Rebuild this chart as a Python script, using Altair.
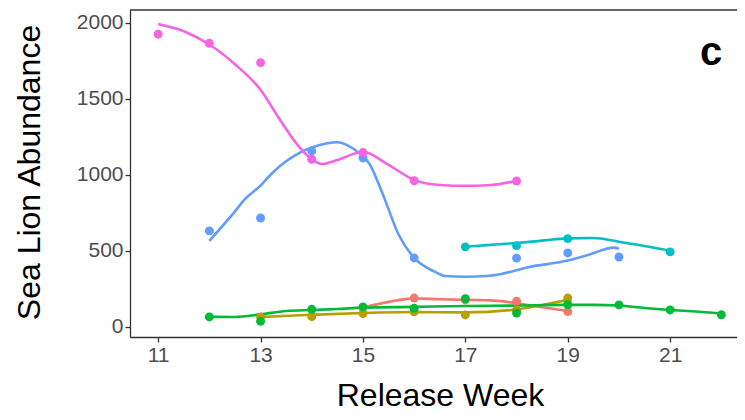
import altair as alt
import pandas as pd

# ---- data ----
groups = ["G1", "G2", "G3", "G4", "G5", "G6"]
colors = ["#F8766D", "#B79F00", "#00BA38", "#00BFC4", "#619CFF", "#F564E3"]

# observed points
g1_wk = [15, 16, 17, 18, 19]
g1_val = [128, 190, 178, 170, 101]
g2_wk = [13, 14, 15, 16, 17, 18, 19]
g2_val = [66, 68, 88, 100, 79, 110, 190]
g3_wk = [12, 13, 14, 15, 16, 17, 18, 19, 20, 21, 22]
g3_val = [66, 37, 116, 132, 123, 186, 92, 148, 145, 112, 80]
g4_wk = [17, 18, 19, 21]
g4_val = [527, 535, 581, 494]
g5_wk = [12, 13, 14, 15, 16, 18, 19, 20]
g5_val = [632, 717, 1158, 1112, 454, 453, 487, 460]
g6_wk = [11, 12, 13, 14, 15, 16, 18]
g6_val = [1926, 1866, 1739, 1103, 1147, 962, 960]

# smoothed trend curves
s1_wk = [15, 15.5, 16, 16.5, 17, 17.5, 17.8, 18.3, 19]
s1_val = [128, 165, 188, 182, 178, 175, 166, 140, 105]
s2_wk = [13, 14, 15, 16, 17, 18, 18.5, 19]
s2_val = [66, 80, 92, 98, 96, 115, 145, 178]
s3_wk = [12, 12.5, 13, 13.5, 14, 14.5, 15, 16, 17, 18, 19, 19.5, 20, 20.5, 21, 21.5, 22]
s3_val = [68, 66, 83, 105, 112, 118, 127, 132, 138, 141, 145, 145, 141, 125, 112, 102, 89]
s4_wk = [17, 17.5, 18, 18.5, 19, 19.5, 20, 20.5, 21]
s4_val = [528, 540, 552, 568, 583, 585, 561, 533, 502]
s5_wk = [12, 12.5, 12.68, 13, 13.23, 13.76, 14, 14.3, 14.5, 14.7, 14.93, 15.12, 15.38, 15.7, 16,
         16.4, 16.6, 17, 17.4, 17.7, 18.25, 18.9, 19.4, 19.9, 20]
s5_val = [566, 760, 836, 930, 1013, 1145, 1180, 1208, 1215, 1195, 1142, 1077, 880, 605, 454,
          364, 335, 330, 335, 349, 395, 430, 474, 522, 515]
s6_wk = [11, 11.5, 12, 12.5, 13, 13.36, 13.75, 14, 14.2, 14.5, 15, 15.5, 16, 16.5, 17, 17.5, 18]
s6_val = [1993, 1945, 1858, 1728, 1560, 1373, 1186, 1103, 1072, 1098, 1153, 1066, 967, 934, 928, 934, 962]

x_ticks = [11, 13, 15, 17, 19, 21]
y_ticks = [0, 500, 1000, 1500, 2000]
panel_label = "c"

pts = [(g1_wk, g1_val), (g2_wk, g2_val), (g3_wk, g3_val),
       (g4_wk, g4_val), (g5_wk, g5_val), (g6_wk, g6_val)]
smooth = [(s1_wk, s1_val), (s2_wk, s2_val), (s3_wk, s3_val),
          (s4_wk, s4_val), (s5_wk, s5_val), (s6_wk, s6_val)]

pt_rows, sm_rows = [], []
for g, (w, v) in zip(groups, pts):
    for a, b in zip(w, v):
        pt_rows.append({"group": g, "week": a, "abund": b})
for g, (w, v) in zip(groups, smooth):
    for j, (a, b) in enumerate(zip(w, v)):
        sm_rows.append({"group": g, "week": a, "abund": b, "order": j})
pt_df = pd.DataFrame(pt_rows)
sm_df = pd.DataFrame(sm_rows)

W, H = 607, 327
xscale = alt.Scale(domain=[10.45, 10.45 + W / 51.2], nice=False, zero=False)
yscale = alt.Scale(domain=[-66, 2085], nice=False, zero=False)
cscale = alt.Scale(domain=groups, range=colors)

xaxis = alt.Axis(values=x_ticks, title="Release Week", grid=False, format="d",
                 titleBaseline="alphabetic", titleY=68, titleX=310, titleAlign="center")
yaxis = alt.Axis(values=y_ticks, title="Sea Lion Abundance", grid=False, format="d",
                 titleBaseline="alphabetic", titleX=-91, titleY=162, titleAlign="center",
                 titleAngle=270)

lines = alt.Chart(sm_df).mark_line(strokeWidth=2.6, interpolate="monotone").encode(
    x=alt.X("week:Q", scale=xscale, axis=xaxis),
    y=alt.Y("abund:Q", scale=yscale, axis=yaxis),
    color=alt.Color("group:N", scale=cscale, legend=None),
    order="order:Q",
)

points = alt.Chart(pt_df).mark_point(filled=True, size=80, opacity=1).encode(
    x=alt.X("week:Q", scale=xscale),
    y=alt.Y("abund:Q", scale=yscale),
    color=alt.Color("group:N", scale=cscale, legend=None),
)

one = alt.Data(values=[{"k": 1}])
top_border = alt.Chart(one).mark_rule(color="#333333", strokeWidth=1.3).encode(
    x=alt.value(0), x2=alt.value(W), y=alt.value(0)
)

label = alt.Chart(one).mark_text(
    text=panel_label, fontSize=40, fontWeight="bold", font="Liberation Sans",
    color="black", align="center", baseline="alphabetic"
).encode(x=alt.value(581), y=alt.value(55))

chart = alt.layer(lines, points, top_border, label).properties(
    width=W, height=H,
    padding={"left": 122, "top": 2, "right": 0, "bottom": 75},
    autosize=alt.AutoSizeParams(type="none"),
).configure_view(stroke=None).configure_axis(
    domainColor="#333333", domainWidth=1.3,
    tickColor="#333333", tickWidth=1.3, tickSize=5,
    labelColor="#4D4D4D", labelFontSize=21, labelFont="Liberation Sans",
    titleFont="Liberation Sans", titleFontSize=32, titleFontWeight="normal",
    titleColor="black", labelPadding=2,
)

chart.save("out.html", embed_options={"renderer": "svg", "actions": False})
